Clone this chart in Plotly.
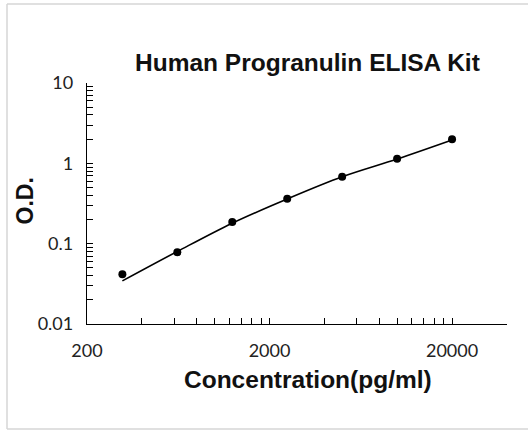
import plotly.graph_objects as go

# Data
concentration = [312.5, 625, 1250, 2500, 5000, 10000, 20000]
od_values = [0.0416, 0.078, 0.186, 0.363, 0.681, 1.14, 2.0]
fit_values = [0.0344, 0.080, 0.180, 0.360, 0.680, 1.13, 1.95]

x_tick_vals = [200, 400, 600, 800, 1000, 1200, 1400, 1600, 1800, 2000,
               4000, 6000, 8000, 10000, 12000, 14000, 16000, 18000, 20000, 40000]
x_tick_labels = ["200", "", "", "", "", "", "", "", "", "2000",
                 "", "", "", "", "", "", "", "", "20000", ""]
y_tick_vals = [0.01, 0.02, 0.03, 0.04, 0.05, 0.06, 0.07, 0.08, 0.09,
               0.1, 0.2, 0.3, 0.4, 0.5, 0.6, 0.7, 0.8, 0.9,
               1, 2, 3, 4, 5, 6, 7, 8, 9, 10]
y_tick_labels = ["0.01"] + [""] * 8 + ["0.1"] + [""] * 8 + ["1"] + [""] * 8 + ["10"]

title_text = "Human Progranulin ELISA Kit"
x_title = "Concentration(pg/ml)"
y_title = "O.D."

fig = go.Figure()
fig.add_trace(go.Scatter(x=concentration, y=fit_values, mode="lines",
                         line=dict(color="black", width=1.6, shape="spline"),
                         showlegend=False, hoverinfo="skip"))
fig.add_trace(go.Scatter(x=concentration, y=od_values, mode="markers",
                         marker=dict(color="black", size=8),
                         showlegend=False))

W, H = 528, 432
L, R, T, B = 87, 528 - 507, 83, 432 - 324
pw, ph = W - L - R, H - T - B

def px(x):
    return (x - L) / pw

def py(y):
    return (H - B - y) / ph

border = dict(color="#d6d6d6", width=1.5)
tick_font = dict(family="Lato, Open Sans, sans-serif", size=18, color="#222")
fig.update_layout(
    width=W, height=H,
    margin=dict(l=L, r=R, t=T, b=B, pad=0),
    paper_bgcolor="white", plot_bgcolor="white",
    xaxis=dict(type="log", range=[2.30103, 4.60206],
               tickvals=x_tick_vals, ticktext=x_tick_labels,
               ticks="inside", ticklen=6, tickcolor="black", tickwidth=1,
               showline=True, linecolor="black", linewidth=1.3,
               showgrid=False, zeroline=False, tickfont=tick_font,
               ticklabelstandoff=10),
    yaxis=dict(type="log", range=[-2, 1],
               tickvals=y_tick_vals, ticktext=y_tick_labels,
               ticks="inside", ticklen=6, tickcolor="black", tickwidth=1,
               showline=True, linecolor="black", linewidth=1.3,
               showgrid=False, zeroline=False, tickfont=tick_font,
               ticklabelstandoff=9),
    annotations=[
        dict(text=f"<b>{title_text}</b>", xref="paper", yref="paper",
             x=px(307.5), y=py(62), xanchor="center", yanchor="middle",
             showarrow=False,
             font=dict(family="Liberation Sans, Arial, sans-serif", size=24.5, color="#111")),
        dict(text=f"<b>{x_title}</b>", xref="paper", yref="paper",
             x=px(307.5), y=py(379), xanchor="center", yanchor="middle",
             showarrow=False,
             font=dict(family="Liberation Sans, Arial, sans-serif", size=24.5, color="#111")),
        dict(text=f"<b>{y_title}</b>", xref="paper", yref="paper",
             x=px(24), y=py(201.5), xanchor="center", yanchor="middle",
             showarrow=False, textangle=-90,
             font=dict(family="Liberation Sans, Arial, sans-serif", size=23, color="#111")),
    ],
    shapes=[
        dict(type="line", xref="paper", yref="paper", x0=px(7), x1=px(528), y0=py(4), y1=py(4), line=border, layer="below"),
        dict(type="line", xref="paper", yref="paper", x0=px(7), x1=px(528), y0=py(429), y1=py(429), line=border, layer="below"),
        dict(type="line", xref="paper", yref="paper", x0=px(7), x1=px(7), y0=py(4), y1=py(429), line=border, layer="below"),
    ],
)

fig.write_html("out.html",
               config={"displayModeBar": False},
               post_script="document.body.style.margin='0';document.body.style.overflow='hidden';")
